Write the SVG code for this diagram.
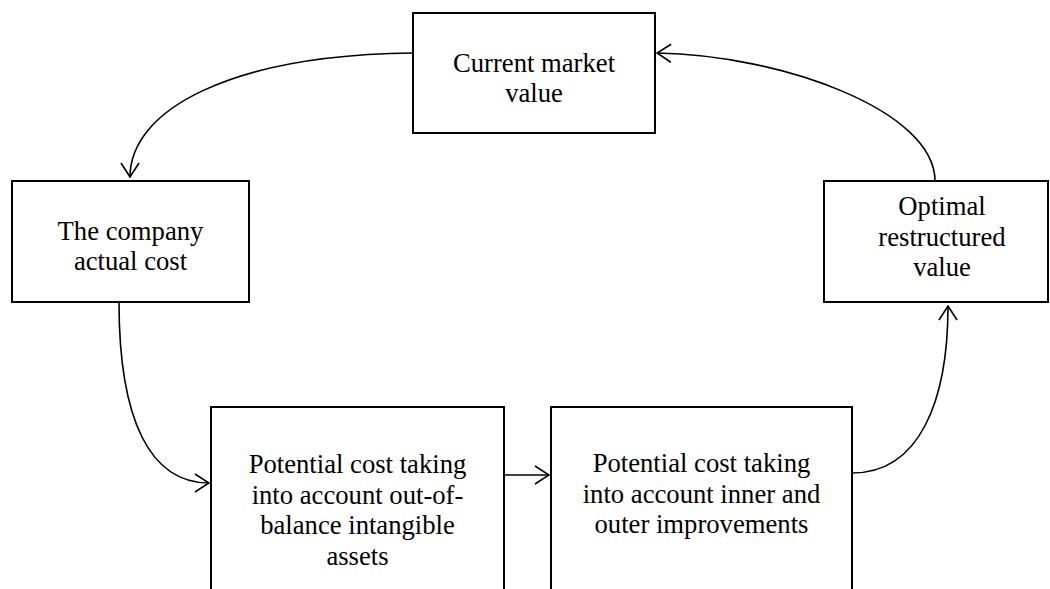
<svg xmlns="http://www.w3.org/2000/svg" width="1050" height="589" viewBox="0 0 1050 589">
<style>
.box{fill:#fff;stroke:#000;stroke-width:2}
.lbl{font-family:"Liberation Serif","Times New Roman",serif;font-size:26.67px;fill:#000;text-anchor:middle}
.con{fill:none;stroke:#000;stroke-width:1.6}
</style>
<defs>
<marker id="arr" markerWidth="16" markerHeight="20" refX="15" refY="10" orient="auto" markerUnits="userSpaceOnUse">
<path d="M1,1 L15,10 L1,19" fill="none" stroke="#000" stroke-width="1.6"/>
</marker>
</defs>
<rect width="1050" height="589" fill="#fff"/>
<g id="connectors">
<path class="con" d="M413,53 C 230,55 130,110 130,177" marker-end="url(#arr)"/>
<path class="con" d="M935,181 C 935,110 780,55 657,53" marker-end="url(#arr)"/>
<path class="con" d="M119,302 C 119,420 150,483 209,483" marker-end="url(#arr)"/>
<path class="con" d="M504,475 L549,475" marker-end="url(#arr)"/>
<path class="con" d="M852,473 C 920,473 948,400 948,306" marker-end="url(#arr)"/>
</g>
<g id="node-market">
<rect class="box" x="413" y="13" width="242" height="120"/>
<text class="lbl" x="534" y="72">Current market</text>
<text class="lbl" x="534" y="102">value</text>
</g>
<g id="node-actual">
<rect class="box" x="12" y="181" width="237" height="121"/>
<text class="lbl" x="130.5" y="240">The company</text>
<text class="lbl" x="130.5" y="270">actual cost</text>
</g>
<g id="node-optimal">
<rect class="box" x="824" y="181" width="224" height="121"/>
<text class="lbl" x="942" y="215">Optimal</text>
<text class="lbl" x="942" y="245.5">restructured</text>
<text class="lbl" x="942" y="276">value</text>
</g>
<g id="node-intangible">
<rect class="box" x="211" y="407" width="293" height="200"/>
<text class="lbl" x="357.5" y="473">Potential cost taking</text>
<text class="lbl" x="357.5" y="503.5">into account out-of-</text>
<text class="lbl" x="357.5" y="534">balance intangible</text>
<text class="lbl" x="357.5" y="564.5">assets</text>
</g>
<g id="node-improvements">
<rect class="box" x="551" y="407" width="301" height="200"/>
<text class="lbl" x="701.5" y="472">Potential cost taking</text>
<text class="lbl" x="701.5" y="502.5">into account inner and</text>
<text class="lbl" x="701.5" y="533">outer improvements</text>
</g>
</svg>
